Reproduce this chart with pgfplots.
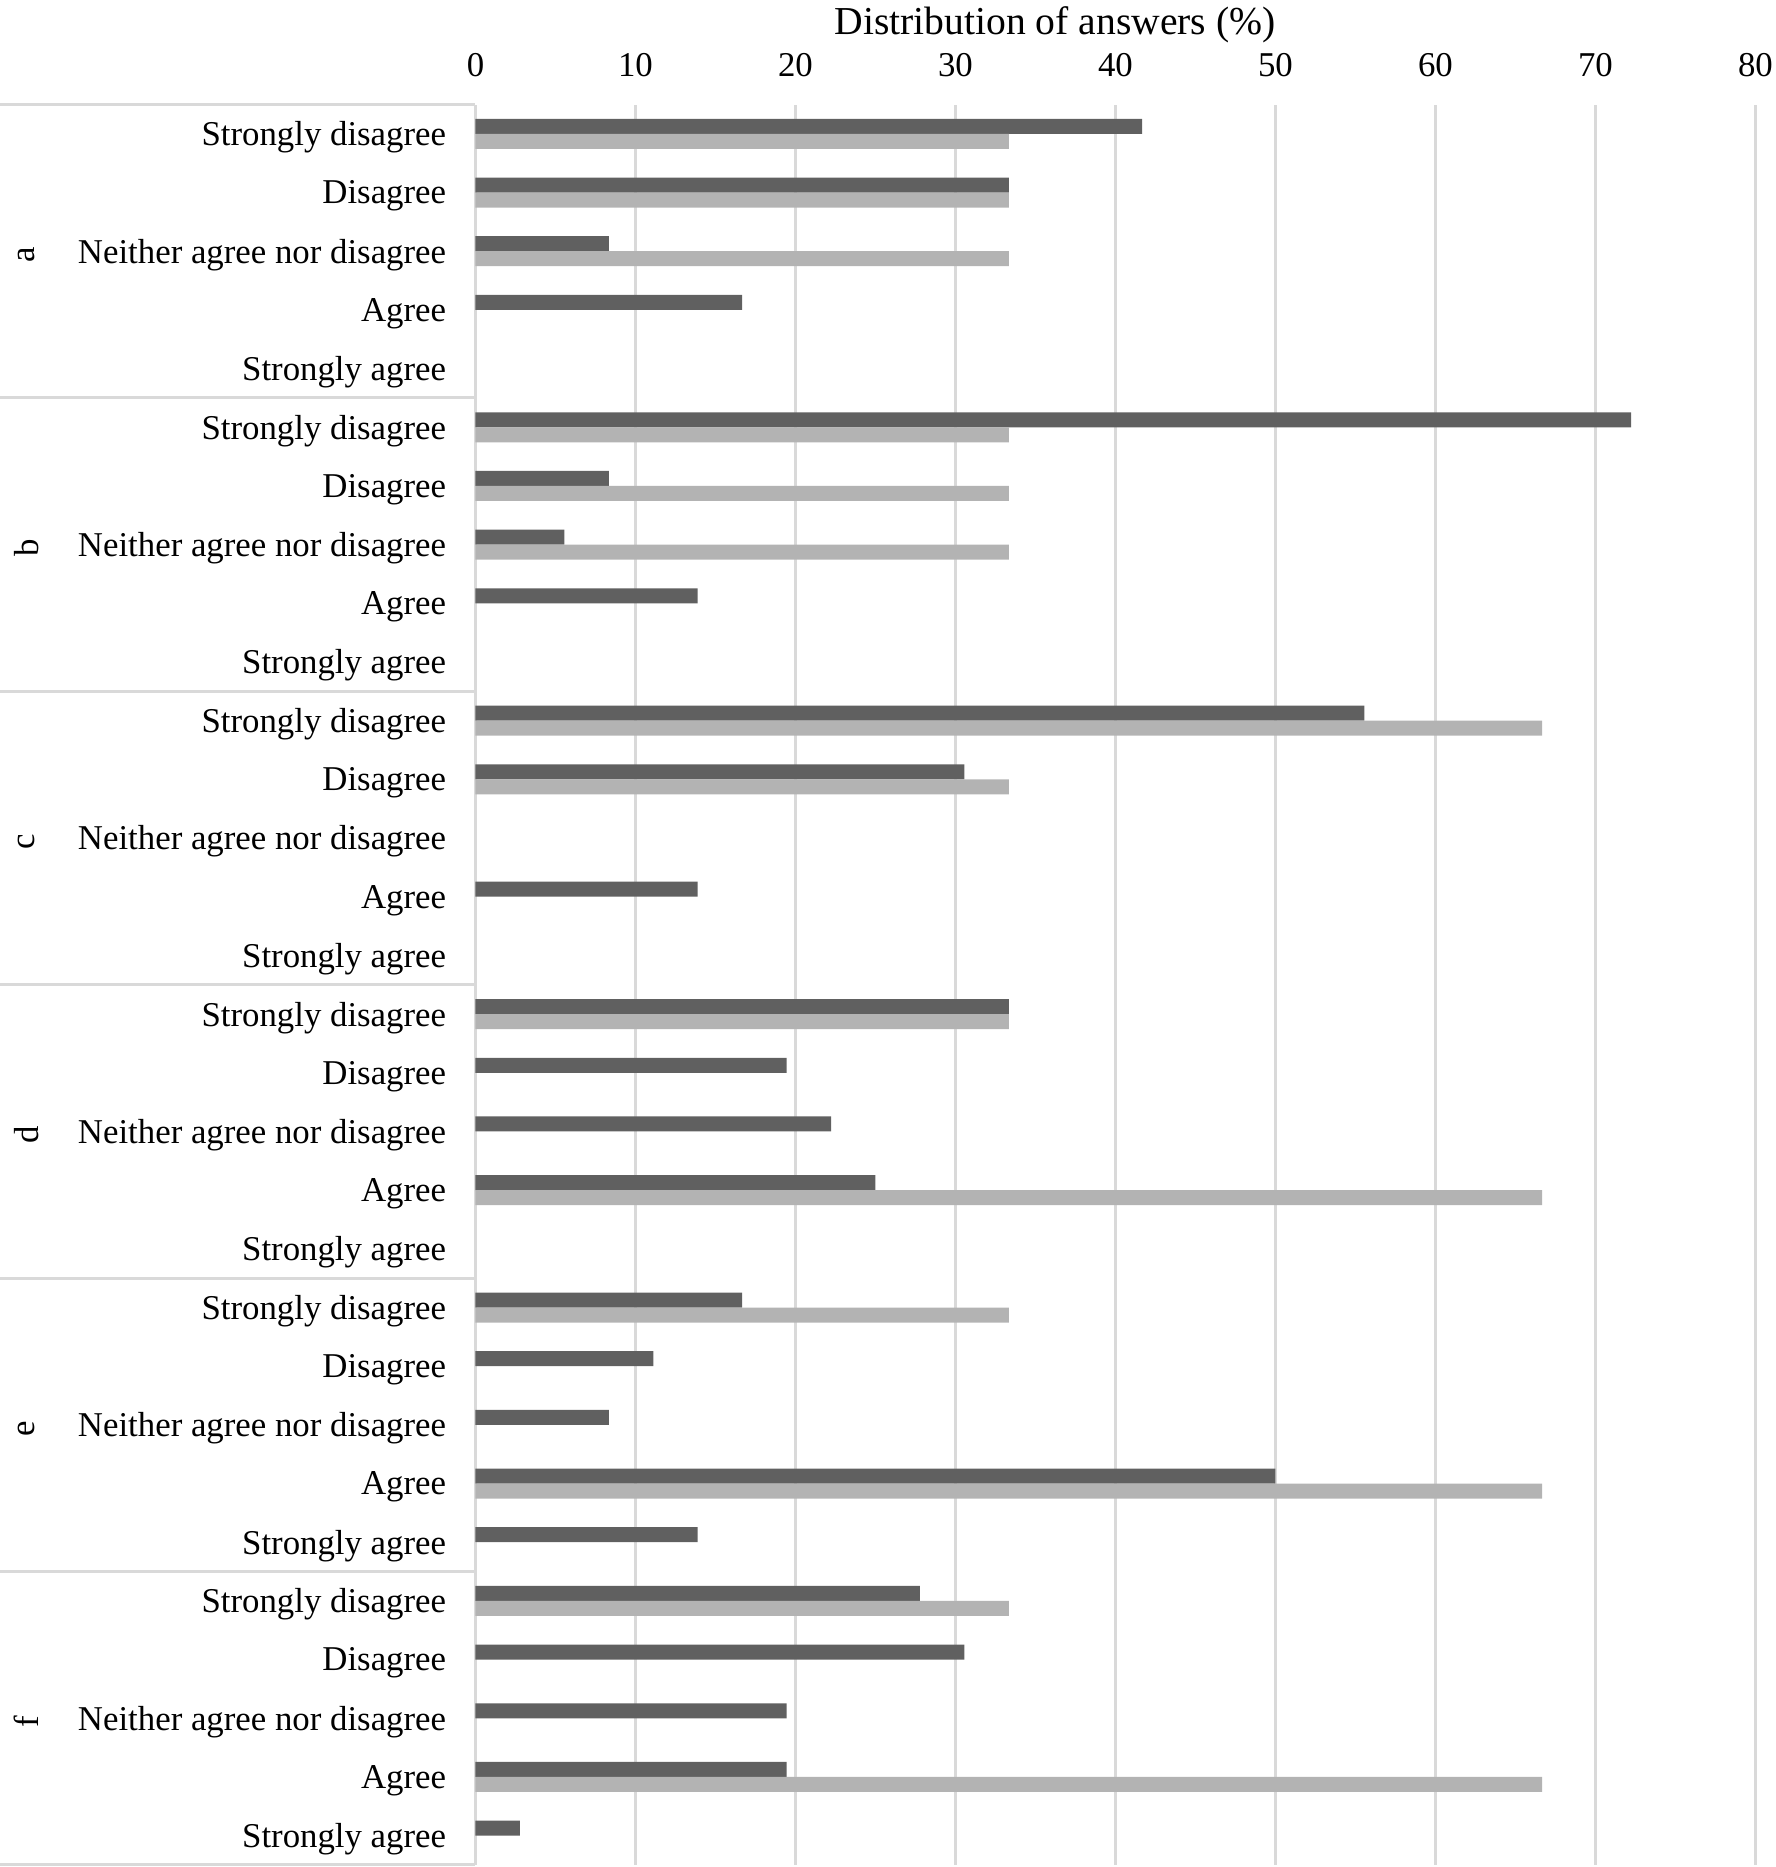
\documentclass[border=0pt]{standalone}
\usepackage{fontspec}
\setmainfont{Liberation Serif}
\usepackage{pgfplots}
\pgfplotsset{compat=1.18}
\definecolor{darkbar}{HTML}{606060}
\definecolor{lightbar}{HTML}{B3B3B3}
\definecolor{gridc}{HTML}{D9D9D9}
\begin{document}
\fontsize{11.6}{13.9}\selectfont
\begin{tikzpicture}
\path[use as bounding box] (-158.5pt,-0.667pt) rectangle (433.17pt,621.67pt);
\begin{axis}[
  at={(0pt,0pt)}, anchor=south west,
  scale only axis, width=426.67pt, height=586.83pt,
  xmin=0, xmax=80, ymin=-0.5, ymax=29.5,
  xtick={0,10,...,80}, xticklabel pos=upper,
  ytick={0,...,29},
  yticklabels={Strongly agree,Agree,Neither agree nor disagree,Disagree,Strongly disagree,
               Strongly agree,Agree,Neither agree nor disagree,Disagree,Strongly disagree,
               Strongly agree,Agree,Neither agree nor disagree,Disagree,Strongly disagree,
               Strongly agree,Agree,Neither agree nor disagree,Disagree,Strongly disagree,
               Strongly agree,Agree,Neither agree nor disagree,Disagree,Strongly disagree,
               Strongly agree,Agree,Neither agree nor disagree,Disagree,Strongly disagree},
  /pgf/number format/assume math mode=true,
  tick label style={font=\fontsize{11.6}{13.9}\selectfont},
  xticklabel style={anchor=center, yshift=13.17pt},
  yticklabel style={anchor=east, inner sep=0pt, xshift=-9.6pt, yshift=-1.2pt},
  axis line style={draw=none},
  major tick length=0pt, tick style={draw=none},
  xmajorgrids, grid style={draw=gridc, line width=1pt},
  xbar, bar width=5pt,
  clip=false,
]
% dark series (upper bar)
\addplot[fill=darkbar, draw=none, bar shift=2.5pt] coordinates {
  (41.67,29) (33.33,28) (8.33,27) (16.67,26)
  (72.22,24) (8.33,23) (5.56,22) (13.89,21)
  (55.56,19) (30.56,18) (13.89,16)
  (33.33,14) (19.44,13) (22.22,12) (25.00,11)
  (16.67,9) (11.11,8) (8.33,7) (50.00,6) (13.89,5)
  (27.78,4) (30.56,3) (19.44,2) (19.44,1) (2.78,0)
};
% light series (lower bar)
\addplot[fill=lightbar, draw=none, bar shift=-2.5pt] coordinates {
  (33.33,29) (33.33,28) (33.33,27)
  (33.33,24) (33.33,23) (33.33,22)
  (66.67,19) (33.33,18)
  (33.33,14) (66.67,11)
  (33.33,9) (66.67,6)
  (33.33,4) (66.67,1)
};
\end{axis}
% group separators
\foreach \k in {0,...,6} {
  \draw[gridc, line width=1pt] (-158.5pt,{586.83pt-\k*97.805pt}) -- (0pt,{586.83pt-\k*97.805pt});
}
% group letters
\foreach \l [count=\k from 0] in {a,b,c,d,e,f} {
  \node[rotate=90, inner sep=0pt] at (-149.6pt,{586.83pt-(\k+0.5)*97.805pt-1.2pt}) {\l};
}
\node[inner sep=0pt, font=\fontsize{13.2}{15.8}\selectfont] at (193.2pt,613.3pt) {Distribution of answers (\%)};
\end{tikzpicture}
\end{document}
